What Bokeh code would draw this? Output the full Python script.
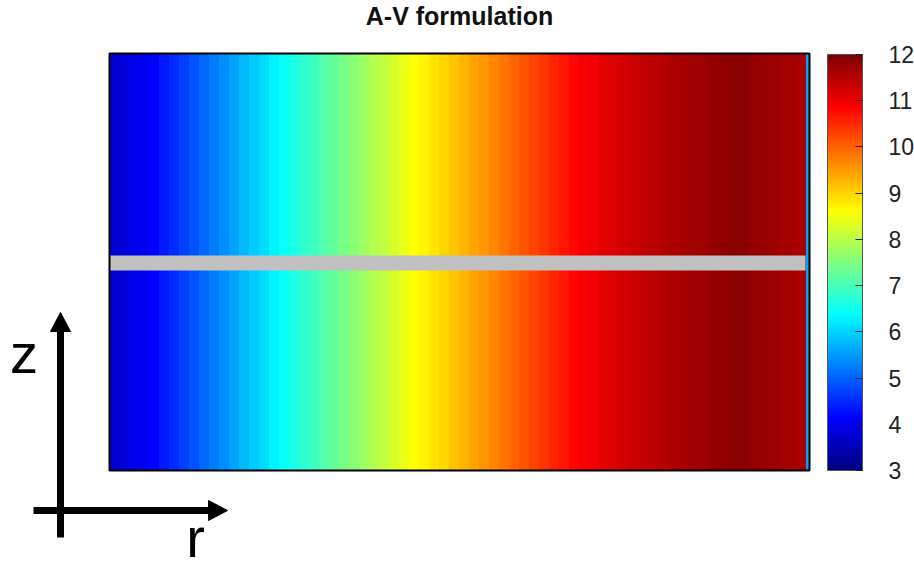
import numpy as np
from bokeh.plotting import figure
from bokeh.models import ColumnDataSource, LinearColorMapper, ColorBar, FixedTicker
from bokeh.core.properties import value
from bokeh.embed import file_html
from bokeh.resources import INLINE

# ---------------- data ----------------
# radial cells (start of each cell, same units as r axis)
r_start = [0.0, 0.1, 0.2, 0.3, 0.4, 0.5, 0.6, 0.7, 0.8, 0.9,
           1.0, 1.1, 1.2, 1.3, 1.4, 1.5, 1.6, 1.7, 1.8, 1.9,
           2.0, 2.1, 2.2, 2.3, 2.4, 2.5, 2.6, 2.7, 2.8, 2.9,
           3.0, 3.1, 3.2, 3.3, 3.4, 3.5, 3.6, 3.7, 3.8, 3.9,
           4.0, 4.1, 4.2, 4.3, 4.4, 4.5, 4.6, 4.7, 4.8, 4.9,
           5.0, 5.1, 5.2, 5.3, 5.4, 5.5, 5.6, 5.7, 5.8, 5.9,
           6.0, 6.1, 6.2, 6.3, 6.4, 6.5, 6.6, 6.7, 6.8, 6.9]
r_outer = 7.0
# field value in each radial cell (uniform along z)
field = [3.71, 3.82, 3.94, 4.05,
         4.19, 4.36, 4.54, 4.71, 4.88, 5.05, 5.23, 5.40, 5.57, 5.75, 5.92, 6.09, 6.27,
         6.44, 6.60, 6.77, 6.93, 7.10, 7.26, 7.43, 7.60, 7.76, 7.93, 8.09, 8.26, 8.42, 8.59,
         8.73, 8.87, 9.01, 9.15, 9.29, 9.43, 9.57, 9.71, 9.85, 9.99, 10.13, 10.27, 10.41,
         10.55, 10.69, 10.83,
         10.93, 11.01, 11.09, 11.17,
         11.24, 11.31, 11.38, 11.45, 11.52,
         11.58, 11.64, 11.70, 11.75, 11.81,
         11.85, 11.87, 11.86, 11.82, 11.77, 11.72, 11.68, 11.64, 11.61]
z_bottom, z_top = 0.0, 4.17
# thin boundary layer at the outer radius
edge_r = [6.965, 7.0]
edge_value = [5.6]
# grey gap across the domain
gap_r = [0.0, 6.96]
gap_z = [2.0, 2.15]
tick_values = [3, 4, 5, 6, 7, 8, 9, 10, 11, 12]
c_low, c_high = 3, 12
title_text = "A-V formulation"
axis_names = ["z", "r"]

# ---------------- jet palette ----------------
t = np.linspace(0, 1, 256)
def _ch(x):
    return np.clip(1.5 - np.abs(4 * t - x), 0, 1)
jet = ["#%02x%02x%02x" % (int(round(255 * a)), int(round(255 * b)), int(round(255 * c)))
       for a, b, c in zip(_ch(3), _ch(2), _ch(1))]
mapper = LinearColorMapper(palette=jet, low=c_low, high=c_high)

# the frame covers the whole canvas; the domain sits inside it through the ranges
p = figure(width=914, height=569, x_range=(-1.09, 8.05), y_range=(-0.99, 4.70),
           output_backend="svg", toolbar_location=None,
           x_axis_location=None, y_axis_location=None,
           min_border=0, min_border_left=0, min_border_right=0,
           min_border_top=0, min_border_bottom=0)
p.grid.visible = False
p.outline_line_color = None
p.background_fill_color = "white"
p.border_fill_color = "white"

r_end = r_start[1:] + [r_outer]
src = ColumnDataSource(dict(left=r_start, right=r_end, v=field,
                            bottom=[z_bottom] * len(field), top=[z_top] * len(field)))
p.quad(left="left", right="right", bottom="bottom", top="top", source=src,
       fill_color={"field": "v", "transform": mapper},
       line_color={"field": "v", "transform": mapper}, line_width=1)

edge_src = ColumnDataSource(dict(left=[edge_r[0]], right=[edge_r[1]], bottom=[z_bottom],
                                 top=[z_top], v=edge_value))
p.quad(left="left", right="right", bottom="bottom", top="top", source=edge_src,
       fill_color={"field": "v", "transform": mapper}, line_color=None)

p.quad(left=[gap_r[0]], right=[gap_r[1]], bottom=[gap_z[0]], top=[gap_z[1]],
       fill_color="#c0c0c0", line_color=None)

# domain outline
p.quad(left=[0], right=[r_outer], bottom=[z_bottom], top=[z_top],
       fill_color=None, line_color="black", line_width=2)

# title
p.text(x=[r_outer / 2], y=[z_top + 0.24], text=[title_text], text_align="center",
       text_baseline="bottom", text_font=value("Liberation Sans"),
       text_font_style="bold", text_font_size="25px", text_color="#111111")

# coordinate-system sketch (r, z) in the lower-left corner
p.segment(x0=[-0.49, -0.76], y0=[-0.67, -0.40], x1=[-0.49, 1.00], y1=[1.41, -0.40],
          line_width=7, line_color="black", line_cap="butt")
p.patches(xs=[[-0.59, -0.49, -0.39], [0.99, 1.18, 0.99]],
          ys=[[1.39, 1.58, 1.39], [-0.30, -0.40, -0.50]],
          fill_color="black", line_color="black", line_width=1)
p.text(x=[-0.855], y=[0.86], text=[axis_names[0]], text_align="center",
       text_baseline="bottom", text_font=value("Liberation Sans"),
       text_font_size="56px", text_color="black")
p.text(x=[0.86], y=[-0.98], text=[axis_names[1]], text_align="center",
       text_baseline="bottom", text_font=value("Liberation Sans"),
       text_font_size="56px", text_color="black")

cb = ColorBar(color_mapper=mapper, ticker=FixedTicker(ticks=tick_values),
              width=35, height=416, location=(827, 99), padding=0, margin=0,
              label_standoff=26, major_label_text_font="Liberation Sans",
              major_label_text_font_size="23px", major_label_text_color="#222222",
              major_tick_in=7, major_tick_out=0, major_tick_line_color="#222222",
              minor_tick_line_color=None,
              bar_line_color="#555555", bar_line_width=1,
              border_line_color=None, background_fill_alpha=0)
p.add_layout(cb)

open("out.html", "w").write(file_html(p, INLINE))
